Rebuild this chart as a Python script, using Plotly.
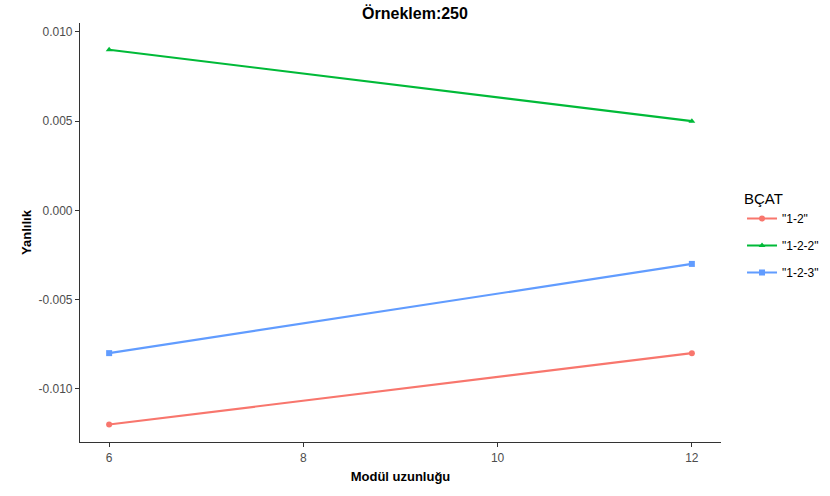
import plotly.graph_objects as go

x_vals = [6, 12]
series_names = ['"1-2"', '"1-2-2"', '"1-2-3"']
y_12 = [-0.012, -0.008]
y_122 = [0.009, 0.005]
y_123 = [-0.008, -0.003]
colors = ["#F8766D", "#00BA38", "#619CFF"]
symbols = ["circle", "triangle-up", "square"]

fig = go.Figure()
for name, ys, c, s in zip(series_names, [y_12, y_122, y_123], colors, symbols):
    fig.add_trace(go.Scatter(x=x_vals, y=ys, name=name, mode="lines+markers",
                             legendgroup=name,
                             line=dict(color=c, width=2.2),
                             marker=dict(color=c, symbol=s, size=6)))

font = "Liberation Sans, Arial, sans-serif"
fig.update_layout(
    width=830, height=496,
    paper_bgcolor="white", plot_bgcolor="white",
    margin=dict(l=80, r=109, t=23, b=54),
    title=dict(text="<b>Örneklem:250</b>", x=0.5, xanchor="center", y=0.985, yanchor="top",
               font=dict(family=font, size=16, color="black")),
    font=dict(family=font),
    xaxis=dict(range=[5.70, 12.30], tickvals=[6, 8, 10, 12], showgrid=False, zeroline=False,
               automargin=True,
               showline=True, linecolor="#333333", linewidth=1.2, ticks="outside", ticklen=4,
               tickcolor="#333333", tickfont=dict(size=12, color="#4d4d4d"),
               title=dict(text="<b>Modül uzunluğu</b>", font=dict(size=13, color="black"), standoff=8)),
    yaxis=dict(range=[-0.01298, 0.0105], tickvals=[-0.010, -0.005, 0.0, 0.005, 0.010],
               ticktext=["-0.010", "-0.005", "0.000", "0.005", "0.010"],
               showgrid=False, zeroline=False, automargin=True,
               showline=True, linecolor="#333333", linewidth=1.2, ticks="outside", ticklen=4,
               tickcolor="#333333", tickfont=dict(size=12, color="#4d4d4d"),
               title=dict(text="<b>Yanlılık</b>", font=dict(size=13, color="black"), standoff=3)),
    legend=dict(xref="container", x=0.894, xanchor="left",
                yref="container", y=0.628, yanchor="top",
                title=dict(text="BÇAT", font=dict(size=15, color="black")),
                font=dict(size=12, color="black"), tracegroupgap=8, itemwidth=30),
)
fig.write_html("out.html", config={"displayModeBar": False},
               post_script="document.body.style.margin='0';document.body.style.padding='0';")
